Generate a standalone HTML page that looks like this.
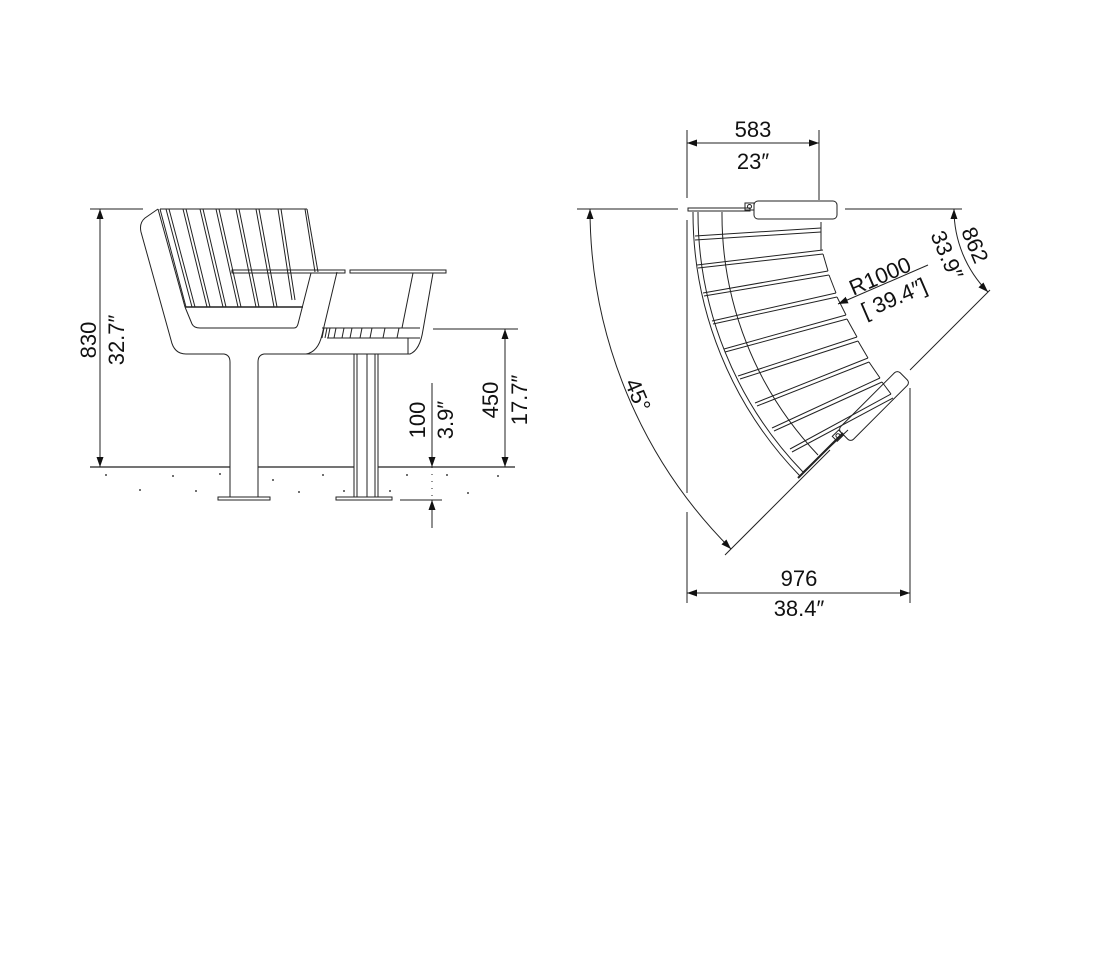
<!DOCTYPE html>
<html><head><meta charset="utf-8"><style>
html,body{margin:0;padding:0;background:#fff;}
svg{display:block;}
text{font-family:"Liberation Sans",sans-serif;fill:#111;}
</style></head><body>
<svg width="1107" height="964" viewBox="0 0 1107 964" xmlns="http://www.w3.org/2000/svg">
<defs>
<marker id="ar" viewBox="0 0 10 10" refX="10" refY="5" markerWidth="10" markerHeight="10" markerUnits="userSpaceOnUse" orient="auto-start-reverse">
<path d="M0,1.5 L10,5 L0,8.5 z" fill="#111"/></marker>
</defs>
<g fill="none" stroke="#222" stroke-width="1">
<line x1="90" y1="467" x2="230" y2="467" stroke-width="1.3"/>
<line x1="258" y1="467" x2="354" y2="467" stroke-width="1.3"/>
<line x1="378" y1="467" x2="515" y2="467" stroke-width="1.3"/>
<line x1="90" y1="209" x2="143" y2="209"/>
<line x1="100" y1="209" x2="100" y2="467" marker-start="url(#ar)" marker-end="url(#ar)"/>
<path d="M158,209 L145,218 Q139,223 141,232 L171,340 Q174,354 186,354 L224,354 Q230,355 230,362 L230,497"/>
<path d="M258,497 L258,362 Q258,355 264,354 L306,354 Q318,352 322,335 L337,272"/>
<path d="M158,209 L185,307"/>
<path d="M160,209 L186,307"/>
<line x1="160" y1="209" x2="307" y2="209"/>
<path d="M307,209 L318,272"/>
<path d="M305,209 L315,272"/>
<g>
<line x1="166" y1="209" x2="192" y2="307"/><line x1="169" y1="209" x2="195" y2="307"/>
<line x1="183" y1="209" x2="207" y2="307"/><line x1="186" y1="209" x2="210" y2="307"/>
<line x1="200" y1="209" x2="223" y2="307"/><line x1="203" y1="209" x2="226" y2="307"/>
<line x1="216" y1="209" x2="238" y2="307"/><line x1="219" y1="209" x2="241" y2="307"/>
<line x1="236" y1="209" x2="256" y2="307"/><line x1="239" y1="209" x2="259" y2="307"/>
<line x1="256" y1="209" x2="274" y2="307"/><line x1="259" y1="209" x2="277" y2="307"/>
<line x1="278" y1="209" x2="292" y2="300"/><line x1="281" y1="209" x2="295" y2="300"/>
</g>
<line x1="185" y1="307" x2="303" y2="307" stroke-width="1.6"/>
<path d="M185,307 L192,324 Q194,328 200,328 L294,328 Q297,328 298,324 L311,273"/>
<rect x="232" y="270" width="113" height="3"/>
<rect x="350" y="270" width="96" height="3"/>
<path d="M413,273 L402,328"/>
<path d="M433,273 L423,330 Q420,350 410,354 L306,354"/>
<path d="M327,338 L420,338"/>
<line x1="408" y1="338" x2="408" y2="354"/>
<path d="M322,328 L420,328"/>
<g>
<line x1="324" y1="328" x2="322" y2="338"/><line x1="327" y1="328" x2="325" y2="338"/><line x1="330" y1="328" x2="328" y2="338"/>
<line x1="336" y1="328" x2="334" y2="338"/><line x1="344" y1="328" x2="342" y2="338"/><line x1="352" y1="328" x2="350" y2="338"/>
<line x1="362" y1="328" x2="360" y2="338"/><line x1="372" y1="328" x2="370" y2="338"/><line x1="385" y1="328" x2="383" y2="338"/>
<line x1="399" y1="328" x2="397" y2="338"/>
</g>
<line x1="354" y1="354" x2="354" y2="497"/><line x1="357" y1="354" x2="357" y2="497"/>
<line x1="367" y1="354" x2="367" y2="497"/>
<line x1="375" y1="354" x2="375" y2="497"/><line x1="378" y1="354" x2="378" y2="497"/>
<rect x="218" y="497" width="52" height="3"/>
<rect x="336" y="497" width="56" height="3"/>
<line x1="433" y1="329" x2="518" y2="329"/>
<line x1="505" y1="329" x2="505" y2="467" marker-start="url(#ar)" marker-end="url(#ar)"/>
<line x1="432" y1="383" x2="432" y2="467" marker-end="url(#ar)"/>
<line x1="400" y1="500" x2="442" y2="500"/>
<line x1="432" y1="528" x2="432" y2="500" marker-end="url(#ar)"/>
<line x1="432" y1="467" x2="432" y2="500" stroke-dasharray="1,6"/>
</g>
<g fill="#444">
<circle cx="106" cy="475" r="1"/><circle cx="173" cy="476" r="1"/><circle cx="220" cy="474" r="1"/><circle cx="140" cy="490" r="1"/><circle cx="196" cy="491" r="1"/>
<circle cx="273" cy="480" r="1"/><circle cx="323" cy="475" r="1"/><circle cx="299" cy="492" r="1"/><circle cx="344" cy="491" r="1"/>
<circle cx="407" cy="475" r="1"/><circle cx="447" cy="475" r="1"/><circle cx="498" cy="476" r="1"/><circle cx="390" cy="491" r="1"/><circle cx="468" cy="493" r="1"/>
</g>
<g font-size="22">
<text transform="translate(96,340) rotate(-90)" text-anchor="middle">830</text>
<text transform="translate(124,340) rotate(-90)" text-anchor="middle">32.7″</text>
<text transform="translate(498,400) rotate(-90)" text-anchor="middle">450</text>
<text transform="translate(527,400) rotate(-90)" text-anchor="middle">17.7″</text>
<text transform="translate(425,420) rotate(-90)" text-anchor="middle">100</text>
<text transform="translate(453,420) rotate(-90)" text-anchor="middle">3.9″</text>
</g>

<g fill="none" stroke="#222" stroke-width="1">
<line x1="687" y1="130" x2="687" y2="198"/>
<line x1="819" y1="130" x2="819" y2="200"/>
<line x1="687" y1="143" x2="819" y2="143" marker-start="url(#ar)" marker-end="url(#ar)"/>
<line x1="577" y1="209" x2="678" y2="209"/>
<line x1="845" y1="209" x2="962" y2="209"/>
<line x1="687" y1="220" x2="687" y2="493"/>
<line x1="687" y1="512" x2="687" y2="603"/>
<line x1="910" y1="388" x2="910" y2="603"/>
<line x1="687" y1="593" x2="910" y2="593" marker-start="url(#ar)" marker-end="url(#ar)"/>
<line x1="725" y1="555" x2="830" y2="450"/>
<line x1="910" y1="370" x2="990" y2="290"/>
<path d="M590,209 A481,481 0 0,0 731,549" marker-start="url(#ar)" marker-end="url(#ar)"/>
<path d="M954,209 A117,117 0 0,0 988,292" marker-start="url(#ar)" marker-end="url(#ar)"/>
<path d="M693,212 A378,378 0 0,0 800,476"/>
<path d="M698,212 A373,373 0 0,0 803,472"/>
<path d="M722,212 A349,349 0 0,0 818,455"/>
<path d="M821,222 L821,228"/>
<rect x="688" y="208" width="62" height="3"/>
<line x1="695" y1="236" x2="821" y2="228"/><line x1="695" y1="240" x2="821" y2="232"/>
<line x1="697" y1="265" x2="823" y2="250"/><line x1="698" y1="268" x2="823" y2="254"/>
<line x1="703" y1="293" x2="828" y2="271"/><line x1="704" y1="296" x2="829" y2="275"/>
<line x1="712" y1="321" x2="836" y2="293"/><line x1="713" y1="324" x2="837" y2="297"/>
<line x1="724" y1="349" x2="846" y2="315"/><line x1="725" y1="352" x2="847" y2="319"/>
<line x1="738" y1="376" x2="857" y2="337"/><line x1="740" y1="379" x2="858" y2="341"/>
<line x1="755" y1="403" x2="868" y2="358"/><line x1="757" y1="406" x2="869" y2="362"/>
<line x1="772" y1="428" x2="880" y2="378"/><line x1="774" y1="431" x2="882" y2="382"/>
<line x1="790" y1="449" x2="891" y2="394"/><line x1="792" y1="452" x2="893" y2="398"/>
<line x1="821" y1="228" x2="821" y2="250"/>
<line x1="823" y1="254" x2="828" y2="271"/>
<line x1="829" y1="275" x2="836" y2="293"/>
<line x1="837" y1="297" x2="846" y2="315"/>
<line x1="847" y1="319" x2="857" y2="337"/>
<line x1="858" y1="341" x2="868" y2="358"/>
<line x1="869" y1="362" x2="880" y2="378"/>
<line x1="882" y1="382" x2="891" y2="394"/>
<line x1="798" y1="478" x2="843" y2="433" stroke-width="2"/>
<line x1="803" y1="472" x2="848" y2="430"/>
<rect x="754" y="201" width="83" height="18" rx="4"/>
<rect x="745" y="203" width="9" height="7"/>
<circle cx="749.5" cy="206.5" r="2"/>
<g transform="translate(874,406) rotate(-45)">
<rect x="-42" y="-9" width="84" height="18" rx="4"/>
<rect x="-51" y="-8" width="9" height="7"/>
<circle cx="-46.5" cy="-4.5" r="2"/>
</g>
<line x1="928" y1="265" x2="838" y2="304" marker-end="url(#ar)"/>
</g>
<g font-size="22">
<text x="753" y="137" text-anchor="middle">583</text>
<text x="753" y="169" text-anchor="middle">23″</text>
<text x="799" y="586" text-anchor="middle">976</text>
<text x="799" y="616" text-anchor="middle">38.4″</text>
<text transform="translate(631,398) rotate(67)" text-anchor="middle">45°</text>
<text transform="translate(968,248) rotate(67)" text-anchor="middle">862</text>
<text transform="translate(940,258) rotate(67)" text-anchor="middle">33.9″</text>
<text transform="translate(883,283) rotate(-23.4)" text-anchor="middle">R1000</text>
<text transform="translate(897,305) rotate(-23.4)" text-anchor="middle">[ 39.4″]</text>
</g>
</svg>
</body></html>
